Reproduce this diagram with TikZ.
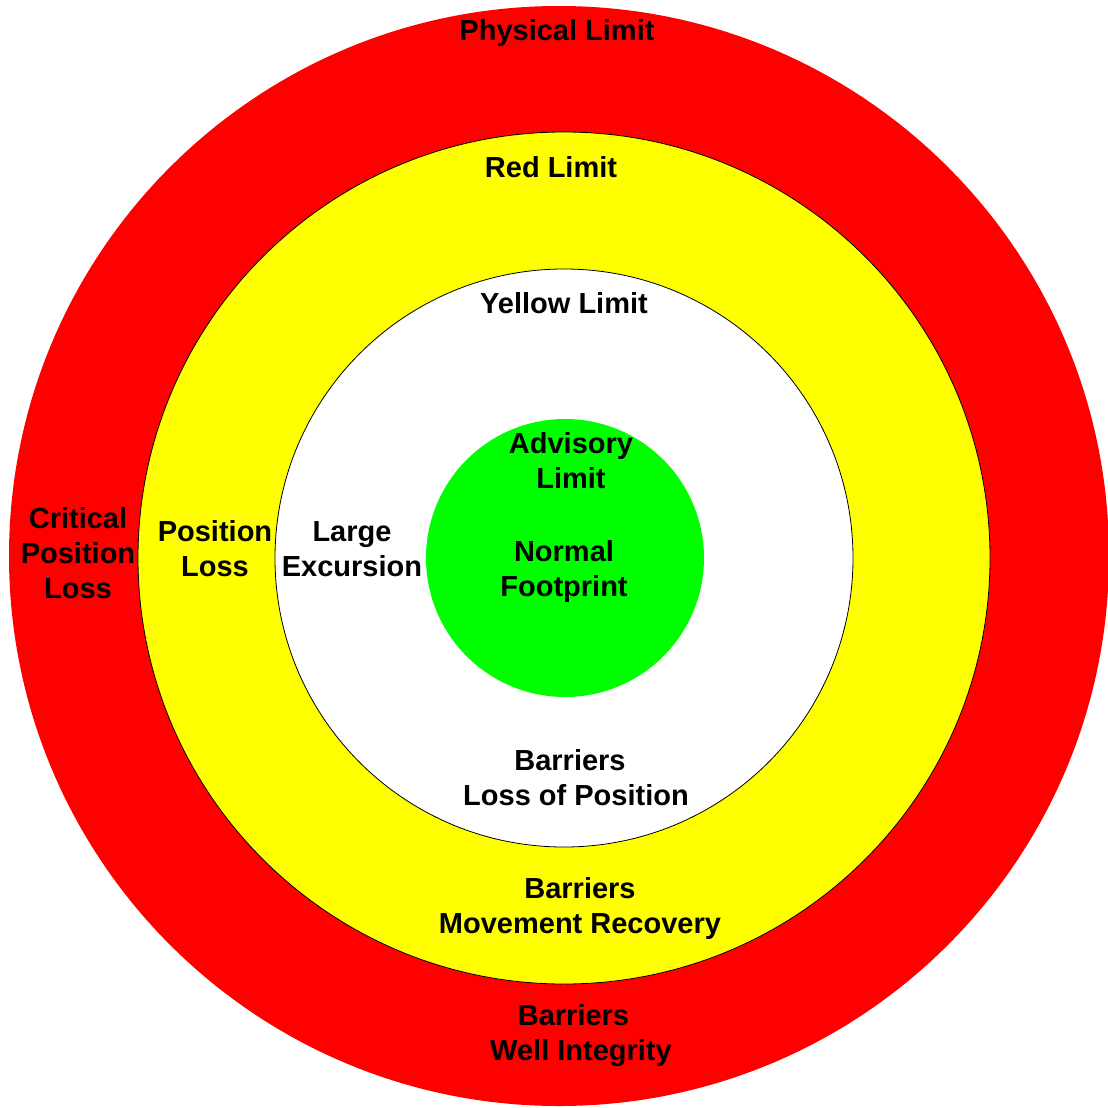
\documentclass[tikz,border=0pt]{standalone}
\usepackage{fontspec}
\setmainfont{Liberation Sans}
\definecolor{ringred}{RGB}{255,0,0}
\definecolor{ringyellow}{RGB}{255,255,0}
\definecolor{ringgreen}{RGB}{0,255,0}
\begin{document}
\begin{tikzpicture}[x=1pt,y=-1pt,
  lbl/.style={font=\fontsize{29}{35}\selectfont\bfseries, align=center, inner sep=0pt, text=black},
  ring/.style={draw=black, line width=0.8pt}]
\useasboundingbox (0,0) rectangle (1108,1108);
\clip (0,0) rectangle (1108,1108);
\fill[ringred] (559,556) circle (550);
\filldraw[fill=ringyellow, ring] (564,558) circle (426);
\filldraw[fill=white, ring] (564,558) circle (289);
\fill[ringgreen] (565,558) circle (139);
\node[lbl] (physical) at (557,33) {Physical Limit};
\node[lbl] (redlim) at (551,167) {Red Limit};
\node[lbl] (yellowlim) at (564,303) {Yellow Limit};
\node[lbl] (advisory) at (571,461) {Advisory\\Limit};
\node[lbl] (normal) at (564,571) {Normal\\Footprint};
\node[lbl] (large) at (352,549) {Large\\Excursion};
\node[lbl] (posloss) at (215,549) {Position\\Loss};
\node[lbl] (critical) at (78,553) {Critical\\Position\\Loss};
\node[lbl] (barlop) at (576,778) {Barriers\hspace*{12pt}\\Loss of Position};
\node[lbl] (barmr) at (580,908) {Barriers\\Movement Recovery};
\node[lbl] (barwi) at (581,1036) {Barriers\hspace*{15pt}\\Well Integrity};
\end{tikzpicture}
\end{document}
